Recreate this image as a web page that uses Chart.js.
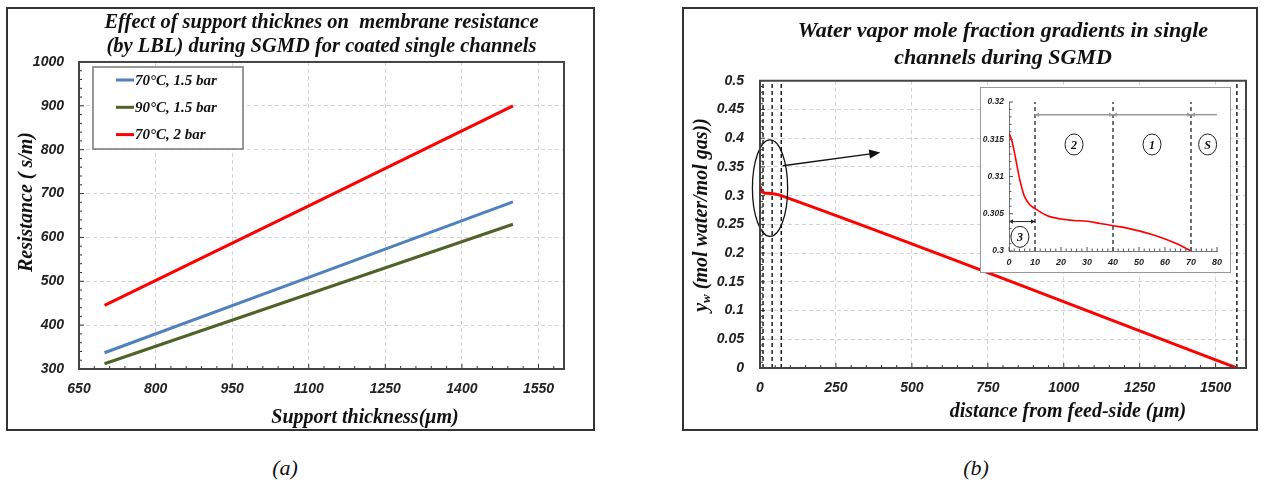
<!DOCTYPE html>
<html>
<head>
<meta charset="utf-8">
<script src="https://cdn.jsdelivr.net/npm/chart.js@4.4.1/dist/chart.umd.min.js"></script>
<style>
    body { margin: 0; background: #fff; width: 1265px; height: 485px; position: relative; overflow: hidden; }
    .panel { position: absolute; border: 2px solid #333; background: #fff; }
    .panel canvas { position: absolute; left: 0; top: 0; }
    #panelA { left: 6px; top: 7px; width: 585px; height: 420px; }
    #panelB { left: 682px; top: 7px; width: 572px; height: 420px; }
    #insetBox { position: absolute; left: 296px; top: 78px; width: 249px; height: 184px; border: 1px solid #999; background: #fff; }
    .caption { position: absolute; top: 455px; width: 100px; text-align: center; font: italic 22px "Liberation Serif", serif; line-height: 26px; color: #111; }
</style>
</head>
<body>

<div class="panel" id="panelA"><canvas id="resistanceChart" width="585" height="420"></canvas></div>
<div class="panel" id="panelB">
    <canvas id="fractionChart" width="572" height="420"></canvas>
    <div id="insetBox"><canvas id="insetChart" width="249" height="184"></canvas></div>
</div>
<div class="caption" style="left:235px">(a)</div>
<div class="caption" style="left:926px">(b)</div>

<script>
//! (a) data
const seriesLabels = ['70°C, 1.5 bar', '90°C, 1.5 bar', '70°C, 2 bar'];
const supportThickness = [700, 1100, 1500];
const res70c15bar = [337, 509, 681];
const res90c15bar = [312, 471, 630];
const res70c2bar = [445, 672, 900];
const thicknessTicks = [650, 800, 950, 1100, 1250, 1400, 1550];
const resistanceTicks = [300, 400, 500, 600, 700, 800, 900, 1000];

//! (b) data
const insetDistance = [0, 1, 2, 3, 4, 5, 6, 8, 10, 15, 20, 25, 30, 35, 40, 45, 50, 55, 60, 65, 70];
const insetFraction = [0.3158, 0.3149, 0.3134, 0.3116, 0.3098, 0.3084, 0.3073, 0.3062, 0.3057, 0.3047, 0.3043,
    0.3041, 0.3040, 0.3037, 0.3034, 0.3031, 0.3027, 0.3022, 0.3016, 0.3009, 0.3000];
const mainDistance = insetDistance.concat([1570]);
const mainFraction = insetFraction.concat([0]);
const layerBounds = [10, 40, 70, 1570];
const distanceTicks = [0, 250, 500, 750, 1000, 1250, 1500];
const fractionTicks = [0, 0.05, 0.1, 0.15, 0.2, 0.25, 0.3, 0.35, 0.4, 0.45, 0.5];
const insetXTicks = [0, 10, 20, 30, 40, 50, 60, 70, 80];
const insetYTicks = [0.3, 0.305, 0.31, 0.315, 0.32];

const toPoints = (xs, ys) => xs.map((x, i) => ({ x: x, y: ys[i] }));
const serifBI = (size) => 'italic bold ' + size + 'px "Liberation Serif", serif';
const tickFont = (size) => ({ family: 'Liberation Sans', size: size, weight: 'bold', style: 'italic' });
const trimNum = (v) => String(Number(v.toFixed(4)));

//! plugins
// ticks pointing into the plot, majors at the scale ticks + minors
const inwardTicks = {
    id: 'inwardTicks',
    afterDatasetsDraw(chart, args, opts) {
        const ctx = chart.ctx;
        ctx.save();
        ctx.strokeStyle = opts.color || '#333';
        ctx.lineWidth = 1;
        ['x', 'y'].forEach((id) => {
            const s = chart.scales[id];
            const o = opts[id];
            if (!o) return;
            const majors = s.ticks.map(t => t.value);
            const n = Math.round((s.max - s.min) / o.minor);
            const draw = (v, len) => {
                const p = s.getPixelForValue(v);
                ctx.beginPath();
                if (id === 'x') {
                    ctx.moveTo(p, chart.chartArea.bottom);
                    ctx.lineTo(p, chart.chartArea.bottom - len);
                } else {
                    ctx.moveTo(chart.chartArea.left, p);
                    ctx.lineTo(chart.chartArea.left + len, p);
                }
                ctx.stroke();
            };
            for (let i = 0; i < n; i++) {
                const v = s.min + i * o.minor;
                if (majors.some(m => Math.abs(m - v) < o.minor / 100)) continue;
                draw(v, o.minorLen);
            }
            majors.forEach(v => draw(v, o.len));
        });
        ctx.restore();
    }
};

const frame = {
    id: 'frame',
    afterDatasetsDraw(chart, args, opts) {
        const { ctx, chartArea: a } = chart;
        ctx.save();
        ctx.strokeStyle = opts.color;
        ctx.lineWidth = opts.width;
        ctx.strokeRect(a.left, a.top, a.width, a.height);
        ctx.restore();
    }
};

// axis titles at fixed spots, with optional subscript parts
const freeText = {
    id: 'freeText',
    afterDraw(chart, args, opts) {
        const ctx = chart.ctx;
        opts.items.forEach((it) => {
            ctx.save();
            ctx.translate(it.x, it.y);
            if (it.rotate) ctx.rotate(it.rotate);
            ctx.fillStyle = '#111';
            ctx.textBaseline = 'middle';
            ctx.textAlign = 'left';
            const parts = it.parts || [{ text: it.text }];
            const widths = parts.map(p => {
                ctx.font = p.sub ? it.subFont : it.font;
                return ctx.measureText(p.text).width;
            });
            let cx = -widths.reduce((a, b) => a + b, 0) / 2;
            parts.forEach((p, i) => {
                ctx.font = p.sub ? it.subFont : it.font;
                ctx.fillText(p.text, cx, p.sub ? 5 : 0);
                cx += widths[i];
            });
            ctx.restore();
        });
    }
};

const boxLegend = {
    id: 'boxLegend',
    afterDraw(chart, args, opts) {
        const ctx = chart.ctx;
        ctx.save();
        ctx.fillStyle = '#fff';
        ctx.fillRect(opts.left, opts.top, opts.width, opts.height);
        ctx.strokeStyle = '#777';
        ctx.lineWidth = 1.5;
        ctx.strokeRect(opts.left, opts.top, opts.width, opts.height);
        ctx.font = serifBI(15);
        ctx.textBaseline = 'middle';
        chart.data.datasets.forEach((ds, i) => {
            const y = opts.top + opts.firstRow + i * opts.rowGap;
            ctx.strokeStyle = ds.borderColor;
            ctx.lineWidth = 3;
            ctx.beginPath();
            ctx.moveTo(opts.left + 23, y);
            ctx.lineTo(opts.left + 41, y);
            ctx.stroke();
            ctx.fillStyle = '#111';
            ctx.fillText(ds.label, opts.left + 42, y + 1);
        });
        ctx.restore();
    }
};

function arrowHead(ctx, x, y, ang, len, half) {
    ctx.beginPath();
    ctx.moveTo(x, y);
    ctx.lineTo(x - len * Math.cos(ang) + half * Math.sin(ang), y - len * Math.sin(ang) - half * Math.cos(ang));
    ctx.lineTo(x - len * Math.cos(ang) - half * Math.sin(ang), y - len * Math.sin(ang) + half * Math.cos(ang));
    ctx.closePath();
    ctx.fill();
}

// layer boundaries, zoom ellipse, arrows and region circles
const marks = {
    id: 'marks',
    beforeDatasetsDraw(chart, args, opts) {
        const { ctx, scales: { x, y } } = chart;
        ctx.save();
        ctx.strokeStyle = '#111';
        ctx.lineWidth = opts.vWidth;
        ctx.setLineDash(opts.vDash);
        opts.vlines.forEach(v => {
            const px = x.getPixelForValue(v);
            ctx.beginPath();
            ctx.moveTo(px, y.getPixelForValue(opts.vFrom));
            ctx.lineTo(px, y.getPixelForValue(opts.vTo));
            ctx.stroke();
        });
        ctx.restore();
    },
    afterDatasetsDraw(chart, args, opts) {
        const { ctx, scales: { x, y } } = chart;
        ctx.save();
        if (opts.ellipse) {
            const e = opts.ellipse;
            const cx = x.getPixelForValue(e.x), cy = y.getPixelForValue(e.y);
            ctx.strokeStyle = '#111';
            ctx.lineWidth = 1.3;
            ctx.beginPath();
            ctx.ellipse(cx, cy, x.getPixelForValue(e.x + e.rx) - cx, cy - y.getPixelForValue(e.y + e.ry), 0, 0, Math.PI * 2);
            ctx.stroke();
        }
        if (opts.arrow) {
            const a = opts.arrow;
            const x1 = x.getPixelForValue(a.x1), y1 = y.getPixelForValue(a.y1);
            const x2 = x.getPixelForValue(a.x2), y2 = y.getPixelForValue(a.y2);
            const ang = Math.atan2(y2 - y1, x2 - x1);
            ctx.strokeStyle = '#111';
            ctx.fillStyle = '#111';
            ctx.lineWidth = 1.5;
            ctx.beginPath();
            ctx.moveTo(x1, y1);
            ctx.lineTo(x2 - 8 * Math.cos(ang), y2 - 8 * Math.sin(ang));
            ctx.stroke();
            arrowHead(ctx, x2, y2, ang, 11, 4.5);
        }
        (opts.spans || []).forEach(s => {
            const x1 = x.getPixelForValue(s.x1), x2 = x.getPixelForValue(s.x2), py = y.getPixelForValue(s.y);
            ctx.strokeStyle = s.color;
            ctx.fillStyle = s.color;
            ctx.lineWidth = s.width;
            ctx.beginPath();
            ctx.moveTo(x1, py);
            ctx.lineTo(x2, py);
            ctx.stroke();
            if (s.headStart) arrowHead(ctx, x1, py, Math.PI, 4, 2.2);
            if (s.headEnd) arrowHead(ctx, x2, py, 0, 4, 2.2);
        });
        (opts.circles || []).forEach(c => {
            const cx = x.getPixelForValue(c.x), cy = y.getPixelForValue(c.y);
            ctx.strokeStyle = '#222';
            ctx.lineWidth = 1;
            ctx.beginPath();
            ctx.ellipse(cx, cy, 9, 10.5, 0, 0, Math.PI * 2);
            ctx.stroke();
            ctx.fillStyle = '#111';
            ctx.font = serifBI(12);
            ctx.textAlign = 'center';
            ctx.textBaseline = 'middle';
            ctx.fillText(c.text, cx, cy + 1);
        });
        ctx.restore();
    }
};

const gridStyle = { color: '#d4d4d4', lineWidth: 1, drawTicks: false };
const gridBorder = { display: false, dash: [4, 3] };

//! (a) chart
new Chart(document.getElementById('resistanceChart'), {
    type: 'line',
    data: {
        datasets: [
            { label: seriesLabels[0], data: toPoints(supportThickness, res70c15bar), borderColor: '#4F81BD' },
            { label: seriesLabels[1], data: toPoints(supportThickness, res90c15bar), borderColor: '#4F6228' },
            { label: seriesLabels[2], data: toPoints(supportThickness, res70c2bar), borderColor: '#FF0000' },
        ]
    },
    options: {
        responsive: false,
        animation: false,
        elements: { point: { radius: 0 }, line: { borderWidth: 3, tension: 0 } },
        layout: { padding: { left: 0, right: 29, top: 0, bottom: 0 } },
        plugins: {
            legend: { display: false },
            tooltip: { enabled: false },
            title: {
                display: true,
                fullSize: false,
                text: ['Effect of support thicknes on  membrane resistance', '(by LBL) during SGMD for coated single channels'],
                color: '#111',
                font: { family: 'Liberation Serif', size: 20.5, weight: 'bold', style: 'italic', lineHeight: 1.17 },
                padding: { top: 2, bottom: 3 },
            },
            frame: { color: '#444', width: 2 },
            inwardTicks: { x: { minor: 30, len: 5, minorLen: 3 }, y: { minor: 20, len: 5, minorLen: 3 } },
            boxLegend: { left: 85, top: 58, width: 150, height: 82, firstRow: 13, rowGap: 27.3 },
            freeText: {
                items: [
                    { text: 'Resistance ( s/m)', x: 19, y: 193, rotate: -Math.PI / 2, font: serifBI(20) },
                    { text: 'Support thickness(μm)', x: 357, y: 409, font: serifBI(20) },
                ]
            },
        },
        scales: {
            x: {
                type: 'linear',
                min: 650,
                max: 1600,
                afterBuildTicks: (s) => { s.ticks = thicknessTicks.map(v => ({ value: v })); },
                afterFit: (s) => { s.height = 60; },
                grid: gridStyle,
                border: gridBorder,
                ticks: { color: '#222', font: tickFont(14), padding: 12, maxRotation: 0, callback: (v) => trimNum(v) },
            },
            y: {
                min: 300,
                max: 1000,
                afterBuildTicks: (s) => { s.ticks = resistanceTicks.map(v => ({ value: v })); },
                afterFit: (s) => { s.width = 71; },
                grid: gridStyle,
                border: gridBorder,
                ticks: { color: '#222', font: tickFont(14), padding: 15, callback: (v) => trimNum(v) },
            },
        }
    },
    plugins: [inwardTicks, frame, boxLegend, freeText]
});

//! (b) chart
new Chart(document.getElementById('fractionChart'), {
    type: 'line',
    data: {
        datasets: [
            { label: 'y_w', data: toPoints(mainDistance, mainFraction), borderColor: '#FF0000', borderWidth: 3, cubicInterpolationMode: 'monotone' },
        ]
    },
    options: {
        responsive: false,
        animation: false,
        elements: { point: { radius: 0 } },
        layout: { padding: { left: 0, right: 10, top: 0, bottom: 0 } },
        plugins: {
            legend: { display: false },
            tooltip: { enabled: false },
            title: {
                display: true,
                fullSize: false,
                text: ['Water vapor mole fraction gradients in single', 'channels during SGMD'],
                color: '#111',
                font: { family: 'Liberation Serif', size: 22, weight: 'bold', style: 'italic', lineHeight: 1.21 },
                padding: { top: 9, bottom: 9.5 },
            },
            frame: { color: '#444', width: 2 },
            inwardTicks: { x: { minor: 50, len: 5, minorLen: 3 }, y: { minor: 0.01, len: 5, minorLen: 3 } },
            marks: {
                vlines: layerBounds, vFrom: 0, vTo: 0.5, vWidth: 1.4, vDash: [4, 3],
                ellipse: { x: 33, y: 0.313, rx: 58, ry: 0.084 },
                arrow: { x1: 75, y1: 0.352, x2: 396, y2: 0.375 },
            },
            freeText: {
                items: [
                    {
                        parts: [{ text: 'y' }, { text: 'w', sub: true }, { text: ' (mol water/mol gas))' }],
                        x: 18, y: 206, rotate: -Math.PI / 2, font: serifBI(20), subFont: serifBI(13)
                    },
                    { text: 'distance from feed-side (µm)', x: 384, y: 403, font: serifBI(20) },
                ]
            },
        },
        scales: {
            x: {
                type: 'linear',
                min: 0,
                max: 1600,
                afterBuildTicks: (s) => { s.ticks = distanceTicks.map(v => ({ value: v })); },
                afterFit: (s) => { s.height = 61; },
                grid: gridStyle,
                border: gridBorder,
                ticks: { color: '#222', font: tickFont(14), padding: 12, maxRotation: 0, callback: (v) => trimNum(v) },
            },
            y: {
                min: 0,
                max: 0.5,
                afterBuildTicks: (s) => { s.ticks = fractionTicks.map(v => ({ value: v })); },
                afterFit: (s) => { s.width = 76; },
                grid: gridStyle,
                border: gridBorder,
                ticks: { color: '#222', font: tickFont(14), padding: 16, callback: (v) => trimNum(v) },
            },
        }
    },
    plugins: [marks, inwardTicks, frame, freeText]
});

//! inset (zoom of the first 80 µm)
new Chart(document.getElementById('insetChart'), {
    type: 'line',
    data: {
        datasets: [
            { label: 'y_w', data: toPoints(insetDistance, insetFraction), borderColor: '#FF0000', borderWidth: 1.6, cubicInterpolationMode: 'monotone' },
        ]
    },
    options: {
        responsive: false,
        animation: false,
        elements: { point: { radius: 0 } },
        layout: { padding: { left: 0, right: 13, top: 14, bottom: 0 } },
        plugins: {
            legend: { display: false },
            tooltip: { enabled: false },
            inwardTicks: { color: '#555', x: { minor: 2, len: 4, minorLen: 2.5 }, y: { minor: 0.001, len: 4, minorLen: 2.5 } },
            marks: {
                vlines: [10, 40, 70], vFrom: 0.3, vTo: 0.32, vWidth: 1.2, vDash: [4, 3],
                spans: [
                    { x1: 10, x2: 40, y: 0.3183, color: '#999', width: 1.5, headStart: true, headEnd: true },
                    { x1: 40, x2: 70, y: 0.3183, color: '#999', width: 1.5, headStart: true, headEnd: true },
                    { x1: 70, x2: 80, y: 0.3183, color: '#999', width: 1.5, headStart: true, headEnd: false },
                    { x1: 0, x2: 10, y: 0.30395, color: '#222', width: 1, headStart: true, headEnd: true },
                ],
                circles: [
                    { text: '3', x: 4.2, y: 0.3019 },
                    { text: '2', x: 25, y: 0.3143 },
                    { text: '1', x: 55, y: 0.3143 },
                    { text: 'S', x: 76.4, y: 0.3143 },
                ],
            },
        },
        scales: {
            x: {
                type: 'linear',
                min: 0,
                max: 80,
                afterBuildTicks: (s) => { s.ticks = insetXTicks.map(v => ({ value: v })); },
                afterFit: (s) => { s.height = 21; },
                grid: { display: false, drawTicks: false },
                border: { display: true, color: '#777', width: 1 },
                ticks: { color: '#222', font: tickFont(9), padding: 6, maxRotation: 0, callback: (v) => trimNum(v) },
            },
            y: {
                min: 0.3,
                max: 0.32,
                afterBuildTicks: (s) => { s.ticks = insetYTicks.map(v => ({ value: v })); },
                afterFit: (s) => { s.width = 28; },
                grid: { display: false, drawTicks: false },
                border: { display: true, color: '#777', width: 1 },
                ticks: { color: '#222', font: tickFont(8.5), padding: 5, callback: (v) => trimNum(v) },
            },
        }
    },
    plugins: [marks, inwardTicks]
});
</script>
</body>
</html>
